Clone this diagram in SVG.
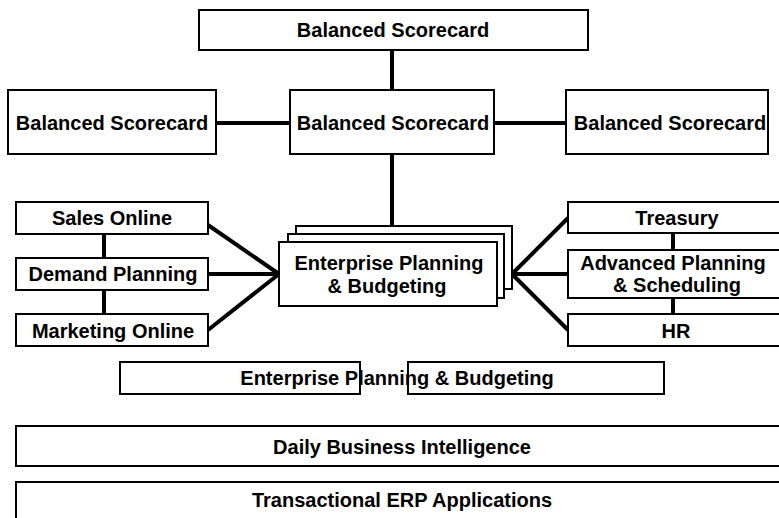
<svg xmlns="http://www.w3.org/2000/svg" width="779" height="518" viewBox="0 0 779 518">
<style>
.box{fill:#fff;stroke:#000;stroke-width:2}
.ol{fill:none;stroke:#000;stroke-width:2}
.t{font-family:"Liberation Sans",Arial,sans-serif;font-weight:bold;font-size:20px;text-anchor:middle;fill:#000}
.c{stroke:#000;stroke-width:4;fill:none}
</style>
<rect width="779" height="518" fill="#fff"/>
<g id="connectors">
<line class="c" x1="392" y1="50" x2="392" y2="90"/>
<line class="c" x1="216" y1="123" x2="290" y2="123"/>
<line class="c" x1="494" y1="123" x2="566" y2="123"/>
<line class="c" x1="392" y1="154" x2="392" y2="226"/>
<line class="c" x1="104" y1="234" x2="104" y2="258"/>
<line class="c" x1="104" y1="290" x2="104" y2="314"/>
<line class="c" x1="673" y1="233" x2="673" y2="250"/>
<line class="c" x1="673" y1="298" x2="673" y2="314"/>
<line class="c" x1="279" y1="274" x2="208" y2="225"/>
<line class="c" x1="279" y1="274" x2="208" y2="274"/>
<line class="c" x1="279" y1="274" x2="208" y2="330"/>
<line class="c" x1="512" y1="274" x2="568" y2="218"/>
<line class="c" x1="512" y1="274" x2="568" y2="274"/>
<line class="c" x1="512" y1="274" x2="568" y2="330"/>
</g>
<g id="bsc-top"><rect class="box" x="199" y="10" width="389" height="40"/><text class="t" x="393" y="37">Balanced Scorecard</text></g>
<g id="bsc-left"><rect class="box" x="8" y="90" width="208" height="64"/><text class="t" x="112" y="130">Balanced Scorecard</text></g>
<g id="bsc-center"><rect class="box" x="290" y="90" width="204" height="64"/><text class="t" x="393" y="130">Balanced Scorecard</text></g>
<g id="bsc-right"><rect class="box" x="566" y="90" width="202" height="64"/><text class="t" x="670" y="130">Balanced Scorecard</text></g>
<g id="sales"><rect class="box" x="16" y="202" width="192" height="32"/><text class="t" x="112" y="225">Sales Online</text></g>
<g id="demand"><rect class="box" x="16" y="258" width="192" height="32"/><text class="t" x="113" y="281">Demand Planning</text></g>
<g id="marketing"><rect class="box" x="16" y="314" width="192" height="32"/><text class="t" x="113" y="338">Marketing Online</text></g>
<g id="epb-stack">
<rect class="box" x="296" y="226" width="216" height="63"/>
<rect class="box" x="288" y="234" width="216" height="64"/>
<rect class="box" x="279" y="242" width="218" height="64"/>
<text class="t" x="389" y="270">Enterprise Planning</text>
<text class="t" x="387" y="293">&amp; Budgeting</text>
</g>
<g id="treasury"><rect class="box" x="568" y="202" width="222" height="31"/><text class="t" x="677" y="225">Treasury</text></g>
<g id="aps"><rect class="box" x="568" y="250" width="222" height="48"/><text class="t" x="673" y="270">Advanced Planning</text><text class="t" x="677" y="292">&amp; Scheduling</text></g>
<g id="hr"><rect class="box" x="568" y="314" width="222" height="32"/><text class="t" x="676" y="338">HR</text></g>
<g id="epb-bar">
<text class="t" x="397" y="385">Enterprise Planning &amp; Budgeting</text>
<rect class="ol" x="120" y="362" width="240" height="32"/>
<rect class="ol" x="408" y="362" width="256" height="32"/>
</g>
<g id="dbi"><rect class="box" x="16" y="426" width="774" height="40"/><text class="t" x="402" y="454">Daily Business Intelligence</text></g>
<g id="erp"><rect class="box" x="16" y="482" width="774" height="50"/><text class="t" x="402" y="507">Transactional ERP Applications</text></g>
</svg>
